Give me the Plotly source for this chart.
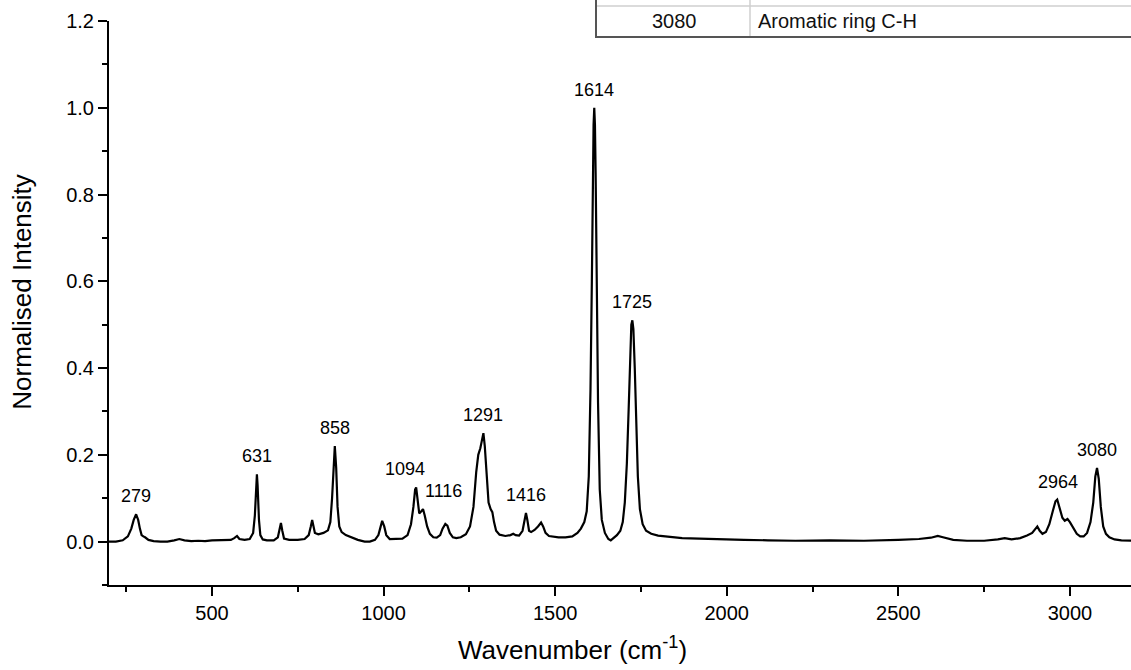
import plotly.graph_objects as go

# ---- data ----
wavenumber = [
    200, 220, 240, 255, 265, 272, 279, 285, 290, 295, 300, 305, 315, 330, 350, 370, 390, 405, 420, 440,
    460, 480, 500, 520, 540, 555, 565, 573, 580, 595, 610, 620, 625, 629, 631, 633, 637, 641, 648, 660,
    680, 692, 697, 701, 705, 710, 725, 750, 770, 782, 788, 792, 796, 800, 810, 825, 838, 845, 850, 854,
    858, 862, 866, 871, 878, 890, 905, 925, 945, 960, 975, 985, 990, 996, 1002, 1008, 1018, 1035, 1055, 1070,
    1080, 1087, 1092, 1095, 1099, 1104, 1110, 1115, 1120, 1127, 1135, 1145, 1155, 1165, 1172, 1180, 1186, 1193, 1202, 1212,
    1225, 1240, 1252, 1262, 1270, 1276, 1282, 1287, 1291, 1295, 1300, 1306, 1312, 1317, 1322, 1328, 1338, 1355, 1370, 1378,
    1385, 1395, 1405, 1411, 1415, 1419, 1424, 1430, 1440, 1450, 1459, 1465, 1472, 1482, 1495, 1510, 1530, 1550, 1565, 1575,
    1585, 1592, 1598, 1603, 1607, 1610, 1612, 1614, 1616, 1618, 1621, 1625, 1630, 1636, 1645, 1655, 1662, 1670, 1680, 1690,
    1697, 1703, 1709, 1714, 1718, 1722, 1725, 1728, 1732, 1736, 1741, 1747, 1755, 1765, 1780, 1800, 1830, 1870, 1920, 1980,
    2050, 2120, 2200, 2300, 2400, 2500, 2560, 2595, 2615, 2630, 2660, 2700, 2750, 2790, 2810, 2830, 2855, 2875, 2890, 2900,
    2905, 2912, 2920, 2930, 2940, 2950, 2958, 2963, 2970, 2978, 2985, 2993, 3000, 3010, 3020, 3030, 3040, 3050, 3060, 3068,
    3074, 3079, 3084, 3090, 3097, 3105, 3115, 3130, 3150, 3180,
]
intensity = [
    0.000, 0.000, 0.003, 0.012, 0.030, 0.050, 0.063, 0.050, 0.030, 0.015, 0.012, 0.010, 0.004, 0.001, 0.000, 0.000, 0.003, 0.006, 0.003, 0.001,
    0.002, 0.001, 0.003, 0.003, 0.004, 0.004, 0.008, 0.013, 0.006, 0.004, 0.006, 0.020, 0.060, 0.130, 0.155, 0.130, 0.050, 0.015, 0.005, 0.003,
    0.003, 0.010, 0.030, 0.043, 0.025, 0.007, 0.004, 0.004, 0.006, 0.015, 0.035, 0.050, 0.035, 0.020, 0.017, 0.020, 0.026, 0.045, 0.100, 0.180,
    0.220, 0.170, 0.080, 0.035, 0.022, 0.015, 0.010, 0.004, 0.000, 0.000, 0.004, 0.015, 0.030, 0.048, 0.035, 0.015, 0.006, 0.006, 0.007, 0.015,
    0.040, 0.080, 0.120, 0.125, 0.095, 0.065, 0.070, 0.075, 0.060, 0.035, 0.018, 0.010, 0.009, 0.015, 0.030, 0.041, 0.037, 0.020, 0.010, 0.008,
    0.010, 0.017, 0.035, 0.080, 0.160, 0.200, 0.215, 0.240, 0.250, 0.220, 0.150, 0.090, 0.075, 0.068, 0.045, 0.025, 0.016, 0.013, 0.015, 0.018,
    0.015, 0.014, 0.025, 0.050, 0.066, 0.050, 0.025, 0.022, 0.027, 0.035, 0.044, 0.035, 0.020, 0.013, 0.011, 0.010, 0.010, 0.012, 0.020, 0.030,
    0.045, 0.070, 0.150, 0.350, 0.600, 0.850, 0.960, 1.000, 0.960, 0.850, 0.600, 0.320, 0.120, 0.050, 0.020, 0.006, 0.003, 0.008, 0.015, 0.025,
    0.045, 0.090, 0.180, 0.300, 0.420, 0.500, 0.510, 0.490, 0.400, 0.280, 0.150, 0.075, 0.040, 0.025, 0.018, 0.014, 0.012, 0.008, 0.007, 0.005,
    0.004, 0.003, 0.002, 0.003, 0.002, 0.004, 0.006, 0.009, 0.013, 0.010, 0.004, 0.002, 0.002, 0.005, 0.008, 0.005, 0.008, 0.014, 0.020, 0.030,
    0.035, 0.025, 0.018, 0.022, 0.040, 0.070, 0.093, 0.097, 0.075, 0.055, 0.048, 0.052, 0.045, 0.030, 0.018, 0.012, 0.012, 0.020, 0.045, 0.090,
    0.150, 0.170, 0.145, 0.080, 0.035, 0.018, 0.010, 0.005, 0.003, 0.002,
]
peak_labels = [279, 631, 858, 1094, 1116, 1291, 1416, 1614, 1725, 2964, 3080]
table_wavenumber = ["3080"]
table_assignment = ["Aromatic ring C-H"]

# ---- styling ----
FONT = "Liberation Sans, Arial, sans-serif"
label_xshift = {1094: -11, 1116: 20}

fig = go.Figure()
fig.add_trace(go.Scatter(x=wavenumber, y=intensity, mode="lines",
                         line=dict(color="black", width=2.2), hoverinfo="skip",
                         showlegend=False))

annotations = []
for p in peak_labels:
    near = [v for w, v in zip(wavenumber, intensity) if abs(w - p) <= 8]
    annotations.append(dict(x=p, y=max(near), xref="x", yref="y", text=str(p),
                            showarrow=False, yanchor="bottom", yshift=6,
                            xshift=label_xshift.get(p, 0),
                            font=dict(family=FONT, size=18, color="black")))

# axis titles
annotations.append(dict(x=0.454, y=0, xref="paper", yref="paper", yshift=-82,
                        text="Wavenumber (cm<sup>-1</sup>)", showarrow=False,
                        xanchor="center", yanchor="bottom",
                        font=dict(family=FONT, size=26, color="black")))
annotations.append(dict(x=0, y=0.52, xref="paper", yref="paper", xshift=-87,
                        text="Normalised Intensity", showarrow=False, textangle=-90,
                        xanchor="center", yanchor="middle",
                        font=dict(family=FONT, size=26, color="black")))

# table (top right, partly outside the picture)
PW, PH, L, T = 1022, 564, 109, 21
def px(xp):
    return (xp - L) / PW
def py(yp):
    return (T + PH - yp) / PH

shapes = [
    dict(type="line", xref="paper", yref="paper", x0=px(596), x1=1.01, y0=py(6), y1=py(6),
         line=dict(color="#cfcfcf", width=1.5)),
    dict(type="line", xref="paper", yref="paper", x0=px(750), x1=px(750), y0=py(-5), y1=py(37),
         line=dict(color="#cfcfcf", width=1.5)),
    dict(type="line", xref="paper", yref="paper", x0=px(596), x1=px(596), y0=py(-5), y1=py(37),
         line=dict(color="#555555", width=2)),
    dict(type="line", xref="paper", yref="paper", x0=px(595), x1=1.01, y0=py(37), y1=py(37),
         line=dict(color="#555555", width=2)),
]
for wn, asg in zip(table_wavenumber, table_assignment):
    annotations.append(dict(x=px(674), y=py(21.5), xref="paper", yref="paper", text=wn,
                            showarrow=False, xanchor="center", yanchor="middle",
                            font=dict(family=FONT, size=20, color="#111111")))
    annotations.append(dict(x=px(756), y=py(21.5), xref="paper", yref="paper", text=asg,
                            showarrow=False, xanchor="left", yanchor="middle",
                            font=dict(family=FONT, size=20, color="#111111")))

fig.update_layout(
    width=1131, height=670,
    margin=dict(l=L, r=0, t=T, b=670 - T - PH),
    paper_bgcolor="white", plot_bgcolor="white",
    annotations=annotations, shapes=shapes,
    xaxis=dict(range=[200, 3178], showline=True, linecolor="black", linewidth=2,
               ticks="outside", ticklen=9, tickwidth=2, tickcolor="black",
               tick0=0, dtick=500, showgrid=False, zeroline=False,
               tickfont=dict(family=FONT, size=20, color="black"),
               minor=dict(ticks="outside", ticklen=5, tickwidth=2, tickcolor="black",
                          tick0=0, dtick=250, showgrid=False)),
    yaxis=dict(range=[-0.1, 1.2], showline=True, linecolor="black", linewidth=2,
               ticks="outside", ticklen=9, tickwidth=2, tickcolor="black",
               tick0=0, dtick=0.2, tickformat=".1f", showgrid=False, zeroline=False,
               tickfont=dict(family=FONT, size=20, color="black"),
               minor=dict(ticks="outside", ticklen=5, tickwidth=2, tickcolor="black",
                          tick0=0, dtick=0.1, showgrid=False)),
)

fig.write_html("out.html")
